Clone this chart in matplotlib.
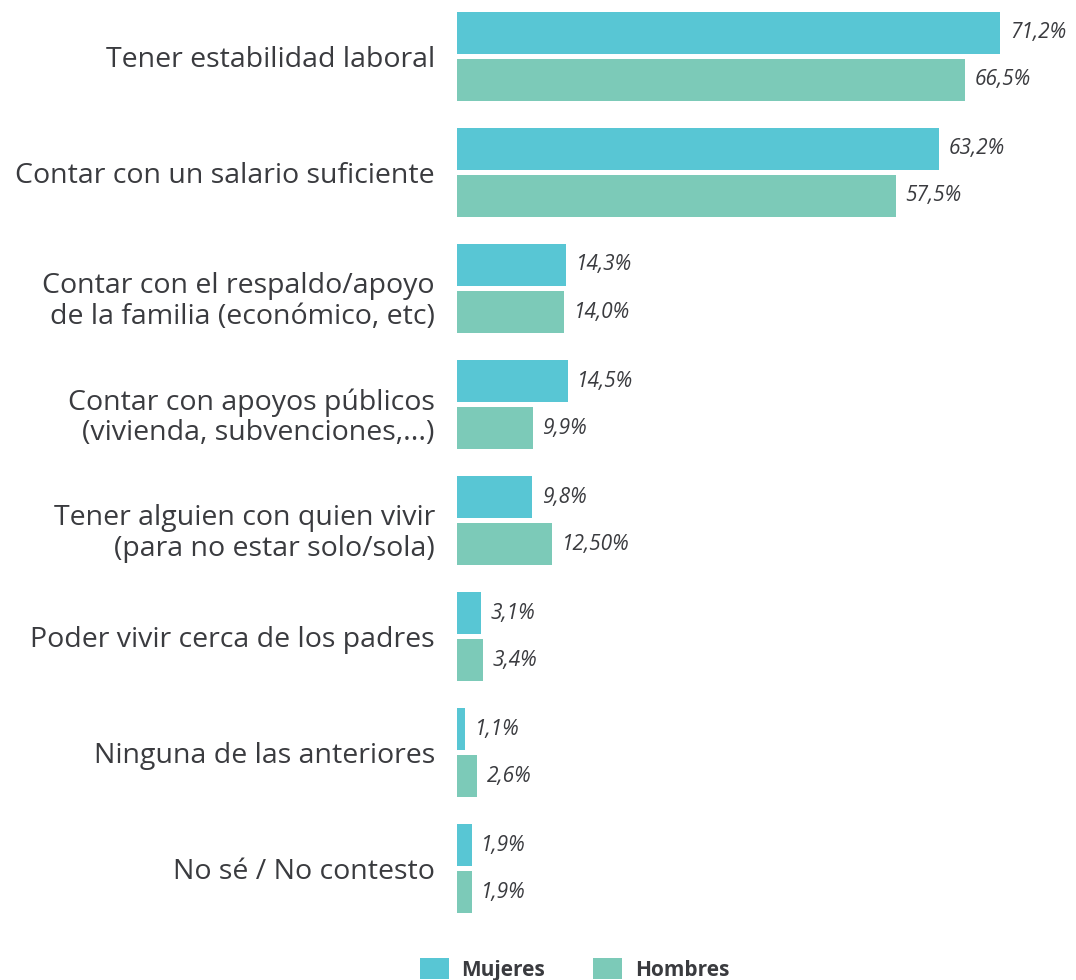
import matplotlib.pyplot as plt
import numpy as np

# Survey answers, one pair of bars per answer
categories = [
    "Tener estabilidad laboral",
    "Contar con un salario suficiente",
    "Contar con el respaldo/apoyo\nde la familia (económico, etc)",
    "Contar con apoyos públicos\n(vivienda, subvenciones,...)",
    "Tener alguien con quien vivir\n(para no estar solo/sola)",
    "Poder vivir cerca de los padres",
    "Ninguna de las anteriores",
    "No sé / No contesto",
]
mujeres = [71.2, 63.2, 14.3, 14.5, 9.8, 3.1, 1.1, 1.9]
hombres = [66.5, 57.5, 14.0, 9.9, 12.5, 3.4, 2.6, 1.9]
mujeres_txt = ["71,2%", "63,2%", "14,3%", "14,5%", "9,8%", "3,1%", "1,1%", "1,9%"]
hombres_txt = ["66,5%", "57,5%", "14,0%", "9,9%", "12,50%", "3,4%", "2,6%", "1,9%"]

C_MUJ = "#58c6d4"
C_HOM = "#7ccab8"
TXT = "#3a3b3f"

plt.rcParams["font.family"] = ["Open Sans", "DejaVu Sans"]

fig = plt.figure(figsize=(10.76, 9.8), dpi=100)
ax = fig.add_axes([457 / 1076, 50 / 980, 1 - 457 / 1076, 930 / 980])

y = np.arange(len(categories))
h = 0.362
off = 0.2026
ax.barh(y - off, mujeres, height=h, color=C_MUJ, label="Mujeres")
ax.barh(y + off, hombres, height=h, color=C_HOM, label="Hombres")

for i in range(len(categories)):
    ax.annotate(mujeres_txt[i], (mujeres[i], y[i] - off), xytext=(7, 0),
                textcoords="offset points", va="center", ha="left",
                fontsize=15, style="italic", color=TXT)
    ax.annotate(hombres_txt[i], (hombres[i], y[i] + off), xytext=(7, 0),
                textcoords="offset points", va="center", ha="left",
                fontsize=15, style="italic", color=TXT)

    # category names; two-line ones sit a little lower
    dy = -6 if "\n" in categories[i] else 0
    ax.annotate(categories[i], (0, y[i]), xytext=(-16, dy),
                textcoords="offset points", va="center_baseline", ha="right",
                fontsize=20.5, color=TXT, linespacing=1.12,
                multialignment="right", annotation_clip=False)

ax.set_xlim(0, 81.1)
ax.set_ylim(7.53, -0.487)
ax.set_yticks([])
ax.set_xticks([])
for s in ax.spines.values():
    s.set_visible(False)

leg = fig.legend(loc="lower center", bbox_to_anchor=(0.534, -0.02), ncol=2,
                 frameon=False, handlelength=1.4, handleheight=1.2,
                 columnspacing=2.3, handletextpad=0.6,
                 prop={"size": 15, "weight": "bold"})
for t in leg.get_texts():
    t.set_color(TXT)

fig.savefig("out.png", dpi=100)
